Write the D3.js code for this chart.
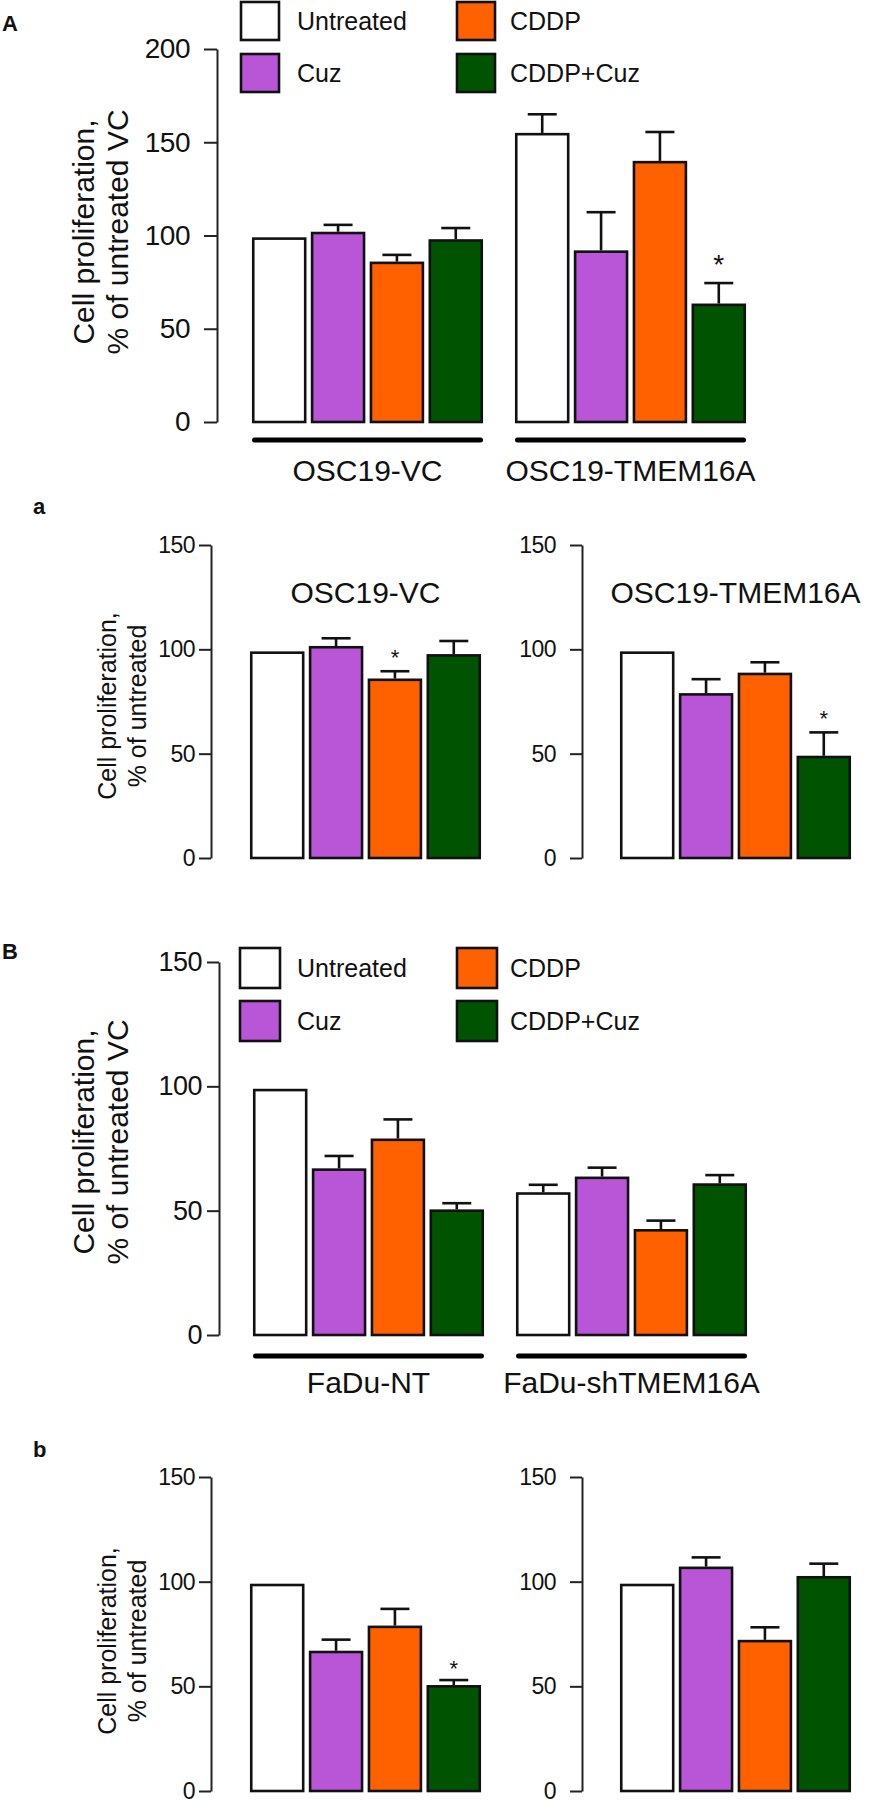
<!DOCTYPE html>
<html>
<head>
<meta charset="utf-8">
<script src="https://cdn.jsdelivr.net/npm/d3@7"></script>
<style>
  html, body { margin: 0; padding: 0; background: #fff; }
  svg { display: block; }
  text { font-family: "Liberation Sans", Arial, Helvetica, sans-serif; fill: #111; }
</style>
</head>
<body>
<svg id="chart" width="869" height="1800"></svg>
<script>
// ---------------- DATA ----------------
const treatments = ["Untreated", "Cuz", "CDDP", "CDDP+Cuz"];
const fills = ["#ffffff", "#b856d7", "#ff6000", "#005300"];

// Panel A
const groupsA = ["OSC19-VC", "OSC19-TMEM16A"];
const meansA = [[99, 102, 86, 98], [155, 92, 140, 63.5]];
const errsA  = [[0, 3.7, 3.6, 6], [10, 20.5, 15.5, 11]];
const sigA   = [[0, 0, 0, 0], [0, 0, 0, 1]];
const ticksA = [0, 50, 100, 150, 200];

// Panel a
const groupsSa = ["OSC19-VC", "OSC19-TMEM16A"];
const meansSa = [[99, 101.6, 86, 97.7], [99, 79, 88.8, 49]];
const errsSa  = [[0, 3.7, 3.5, 6.3], [0, 6.7, 5, 11.2]];
const sigSa   = [[0, 0, 1, 0], [0, 0, 0, 1]];

// Panel B
const groupsB = ["FaDu-NT", "FaDu-shTMEM16A"];
const meansB = [[99, 67, 79, 50.5], [57.4, 63.7, 42.6, 61]];
const errsB  = [[0, 5, 7.7, 2.5], [3, 3.6, 3.4, 3.3]];
const sigB   = [[0, 0, 0, 0], [0, 0, 0, 0]];

// Panel b
const meansSb = [[99, 67, 79, 50.6], [99, 107.2, 72.2, 102.7]];
const errsSb  = [[0, 5.3, 8, 2.4], [0, 4.4, 6, 5.9]];
const sigSb   = [[0, 0, 0, 1], [0, 0, 0, 0]];

const ticks150 = [0, 50, 100, 150];

const titleVC = ["Cell proliferation,", "% of untreated VC"];
const titleU  = ["Cell proliferation,", "% of untreated"];

// ---------------- DRAWING ----------------
const svg = d3.select("#chart");
svg.append("rect").attr("width", 869).attr("height", 1800).attr("fill", "#fff");

function drawAxis(y, axisX, ticks, tickSize, pad, fontSize) {
  const ax = d3.axisLeft(y).tickValues(ticks).tickSize(tickSize)
    .tickSizeOuter(0).tickPadding(pad).tickFormat(d3.format("d"));
  const g = svg.append("g").attr("transform", `translate(${axisX},0)`).call(ax);
  g.select(".domain").attr("stroke", "#222").attr("stroke-width", 2);
  g.selectAll(".tick line").attr("stroke", "#222").attr("stroke-width", 2);
  g.selectAll(".tick text").attr("font-size", fontSize)
    .attr("font-family", '"Liberation Sans", Arial, sans-serif')
    .attr("fill", "#111").attr("letter-spacing", -0.5);
}

function drawBars(y, x0, x1, means, errs, sig, starSize, starGap) {
  const inner = d3.scaleBand().domain(treatments).range([x0, x1]).paddingInner(0.075);
  const bw = inner.bandwidth();
  const g = svg.append("g");
  treatments.forEach((t, i) => {
    const m = means[i], e = errs[i];
    const cx = inner(t) + bw / 2;
    if (e > 0) {
      g.append("line").attr("x1", cx).attr("x2", cx)
        .attr("y1", y(m)).attr("y2", y(m + e))
        .attr("stroke", "#111").attr("stroke-width", 2.6);
      g.append("line").attr("x1", cx - 14.5).attr("x2", cx + 14.5)
        .attr("y1", y(m + e)).attr("y2", y(m + e))
        .attr("stroke", "#111").attr("stroke-width", 2.6);
    }
    g.append("rect")
      .attr("x", inner(t) + 1.25).attr("y", y(m) + 1.25)
      .attr("width", bw - 2.5).attr("height", y(0) - y(m) - 1.25)
      .attr("fill", fills[i]).attr("stroke", "#111").attr("stroke-width", 2.6);
    if (sig[i]) {
      g.append("text").attr("x", cx).attr("y", y(m + e) - starGap)
        .attr("text-anchor", "middle").attr("font-size", starSize).text("*");
    }
  });
}

function drawTitle(lines, bx1, bx2, cy, fontSize) {
  [bx1, bx2].forEach((bx, i) => {
    svg.append("text")
      .attr("transform", `translate(${bx},${cy}) rotate(-90)`)
      .attr("text-anchor", "middle").attr("font-size", fontSize)
      .text(lines[i]);
  });
}

function drawLegend(x0, x1, y0, y1, size, tx0, tx1, fontSize) {
  const pos = [[x0, y0, tx0], [x0, y1, tx0], [x1, y0, tx1], [x1, y1, tx1]];
  treatments.forEach((t, i) => {
    const [bx, by, tx] = pos[i];
    svg.append("rect").attr("x", bx).attr("y", by).attr("width", size).attr("height", size)
      .attr("fill", fills[i]).attr("stroke", "#111").attr("stroke-width", 2.6);
    svg.append("text").attr("x", tx).attr("y", by + size / 2 + 9)
      .attr("font-size", fontSize).text(t);
  });
}

function drawLetter(txt, x, y) {
  svg.append("text").attr("x", x).attr("y", y).attr("font-size", 22)
    .attr("font-weight", "bold").text(txt);
}

function drawGrouped(groups, means, errs, sig, yDom, yRng, ticks, axisX, tickSize, pad, tickFont,
                     xr, underlineY, labelY, starSize, starGap) {
  const y = d3.scaleLinear().domain(yDom).range(yRng);
  const outer = d3.scaleBand().domain(groups).range(xr).paddingInner(0.1217);
  drawAxis(y, axisX, ticks, tickSize, pad, tickFont);
  groups.forEach((gname, gi) => {
    const gx = outer(gname), gw = outer.bandwidth();
    drawBars(y, gx, gx + gw, means[gi], errs[gi], sig[gi], starSize, starGap);
    svg.append("line").attr("x1", gx + 2.5).attr("x2", gx + gw - 2.5)
      .attr("y1", underlineY).attr("y2", underlineY)
      .attr("stroke", "#000").attr("stroke-width", 5).attr("stroke-linecap", "round");
    svg.append("text").attr("x", gx + gw / 2).attr("y", labelY)
      .attr("text-anchor", "middle").attr("font-size", 30).text(gname);
  });
}

// ---- Panel A ----
drawLetter("A", 2, 31);
drawLegend(241, 457, 2, 54, 38, 297, 510, 25);
drawTitle(titleVC, 94, 128, 232, 30);
drawGrouped(groupsA, meansA, errsA, sigA, [0, 200], [422, 49], ticksA, 217, 13, 14, 28,
            [252, 746], 440, 481, 28, 9);

// ---- Panel a ----
drawLetter("a", 33, 514);
drawTitle(titleU, 116, 146, 706, 25);
{
  const y = d3.scaleLinear().domain([0, 150]).range([858, 545]);
  const subs = [[211, 4, 250, 481], [582, 14, 620, 851]];
  subs.forEach(([ax, pad, x0, x1], i) => {
    drawAxis(y, ax, ticks150, 12, pad, 23);
    drawBars(y, x0, x1, meansSa[i], errsSa[i], sigSa[i], 22, 6);
    svg.append("text").attr("x", (x0 + x1) / 2).attr("y", 603)
      .attr("text-anchor", "middle").attr("font-size", 30).text(groupsSa[i]);
  });
}

// ---- Panel B ----
drawLetter("B", 2, 959);
drawLegend(240, 457, 948, 1001, 40, 297, 510, 25);
drawTitle(titleVC, 94, 128, 1142, 30);
drawGrouped(groupsB, meansB, errsB, sigB, [0, 150], [1335, 962], ticks150, 219, 12, 5, 27,
            [253, 747], 1356, 1393, 28, 9);

// ---- Panel b ----
drawLetter("b", 33, 1457);
drawTitle(titleU, 116, 146, 1641, 25);
{
  const y = d3.scaleLinear().domain([0, 150]).range([1791, 1477]);
  const subs = [[211, 4, 250, 481], [582, 14, 620, 851]];
  subs.forEach(([ax, pad, x0, x1], i) => {
    drawAxis(y, ax, ticks150, 12, pad, 23);
    drawBars(y, x0, x1, meansSb[i], errsSb[i], sigSb[i], 22, 4);
  });
}
</script>
</body>
</html>
